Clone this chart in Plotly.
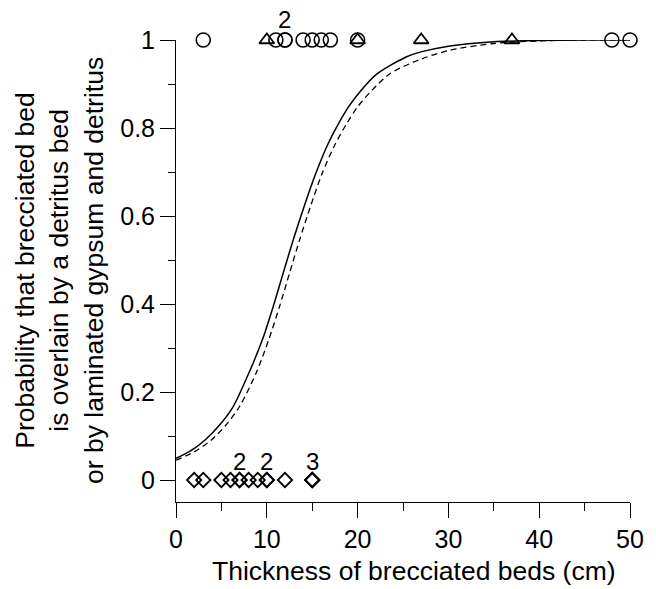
import plotly.graph_objects as go

# Observations (thickness in cm)
top_circles_x = [3, 11, 12, 12, 14, 15, 16, 17, 20, 48, 50]
top_triangles_x = [10, 20, 27, 37]
bottom_diamonds_x = [2, 3, 5, 6, 7, 7, 8, 9, 10, 10, 12, 15, 15, 15]

# Count labels
top_count_x = [12]
top_count_text = ["2"]
bottom_count_x = [7, 10, 15]
bottom_count_text = ["2", "2", "3"]

# Fitted curves
solid_x = [0, 1.6, 3.2, 4.8, 6.3, 8.0, 9.5, 10.7, 11.8, 12.9, 14.1, 15.4, 16.7, 17.9, 19.0, 20.4, 22.2, 25.4, 27, 30, 35, 40, 45, 50]
solid_y = [0.049, 0.066, 0.091, 0.125, 0.167, 0.242, 0.318, 0.394, 0.470, 0.545, 0.621, 0.697, 0.762, 0.810, 0.848, 0.886, 0.924, 0.962, 0.973, 0.986, 0.996, 0.999, 1.0, 1.0]
dashed_x = [0, 2.0, 3.9, 5.5, 7.0, 8.8, 10.2, 11.4, 12.5, 13.6, 14.8, 16.1, 17.5, 18.8, 20.0, 21.6, 23.6, 26.8, 30, 35, 40, 45, 50]
dashed_y = [0.045, 0.064, 0.091, 0.125, 0.167, 0.242, 0.318, 0.394, 0.470, 0.545, 0.621, 0.697, 0.762, 0.810, 0.848, 0.886, 0.924, 0.955, 0.976, 0.992, 0.998, 1.0, 1.0]

FONT = "Liberation Sans, Arial, sans-serif"

fig = go.Figure()
fig.add_trace(go.Scatter(x=solid_x, y=solid_y, mode="lines",
                         line=dict(color="black", width=1.5, shape="spline", smoothing=0.8),
                         showlegend=False, hoverinfo="skip"))
fig.add_trace(go.Scatter(x=dashed_x, y=dashed_y, mode="lines",
                         line=dict(color="black", width=1.3, shape="spline", smoothing=0.8, dash="6px,4px"),
                         showlegend=False, hoverinfo="skip"))
fig.add_trace(go.Scatter(x=top_circles_x, y=[1] * len(top_circles_x), mode="markers",
                         marker=dict(symbol="circle-open", size=14, color="black", line=dict(width=1.6)),
                         cliponaxis=False, showlegend=False))
fig.add_trace(go.Scatter(x=top_triangles_x, y=[1] * len(top_triangles_x), mode="markers",
                         marker=dict(symbol="triangle-up-open", size=13, color="black", line=dict(width=1.8)),
                         cliponaxis=False, showlegend=False))
fig.add_trace(go.Scatter(x=bottom_diamonds_x, y=[0] * len(bottom_diamonds_x), mode="markers",
                         marker=dict(symbol="diamond-open", size=11, color="black", line=dict(width=1.8)),
                         cliponaxis=False, showlegend=False))

for xv, t in zip(top_count_x, top_count_text):
    fig.add_annotation(x=xv, y=1, text=t, showarrow=False, yshift=21, yanchor="middle",
                       font=dict(family=FONT, size=24, color="black"))
for xv, t in zip(bottom_count_x, bottom_count_text):
    fig.add_annotation(x=xv, y=0, text=t, showarrow=False, yshift=19, yanchor="middle",
                       font=dict(family=FONT, size=24, color="black"))

fig.add_annotation(xref="paper", yref="paper", x=0, y=0.5, xshift=-117, xanchor="center", yanchor="middle",
                   text="Probability that brecciated bed<br>is overlain by a detritus bed<br>or by laminated gypsum and detritus",
                   textangle=-90, showarrow=False, font=dict(family=FONT, size=26.5, color="black"))
fig.add_annotation(xref="paper", yref="paper", x=0.5, y=0, xshift=11, yshift=-52, xanchor="center", yanchor="top",
                   text="Thickness of brecciated beds (cm)", showarrow=False,
                   font=dict(family=FONT, size=26.5, color="black"))

fig.update_layout(
    width=656, height=589,
    margin=dict(l=176, r=14, t=40, b=87),
    paper_bgcolor="white", plot_bgcolor="white",
    font=dict(family=FONT, size=25, color="black"),
    xaxis=dict(range=[0, 50], tickvals=[0, 10, 20, 30, 40, 50], ticks="outside", ticklen=15, tickwidth=1,
               tickcolor="black", showline=True, linecolor="black", linewidth=1, showgrid=False, zeroline=False,
               minor=dict(tickvals=[5, 15, 25, 35, 45], ticks="outside", ticklen=8, tickcolor="black", showgrid=False),
               tickfont=dict(size=25)),
    yaxis=dict(range=[-0.05, 1.0], tickvals=[0, 0.2, 0.4, 0.6, 0.8, 1], ticktext=["0", "0.2", "0.4", "0.6", "0.8", "1"],
               ticks="outside", ticklen=15, tickwidth=1, tickcolor="black", showline=True, linecolor="black",
               linewidth=1, showgrid=False, zeroline=False,
               minor=dict(tickvals=[0.1, 0.3, 0.5, 0.7, 0.9], ticks="outside", ticklen=7, tickcolor="black", showgrid=False),
               tickfont=dict(size=25)),
)

fig.write_html("out.html")
